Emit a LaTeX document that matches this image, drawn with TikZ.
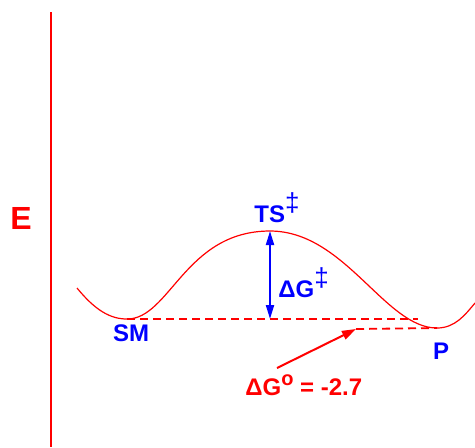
\documentclass[tikz,border=0pt]{standalone}
\usepackage{fontspec}
\setmainfont{Liberation Sans}
\usetikzlibrary{arrows.meta,positioning}

\newcommand{\dg}{\raisebox{0.45em}{\mdseries\fontsize{13}{14}\selectfont‡}}

\begin{document}
\begin{tikzpicture}[
    x=0.5pt, y=-0.5pt,
    lbl/.style={font=\bfseries\fontsize{12}{14}\selectfont, text=blue, inner sep=0pt},
    redlbl/.style={font=\bfseries\fontsize{12}{14}\selectfont, text=red, inner sep=0pt},
    level/.style={red, dash pattern=on 4pt off 2.5pt, line width=0.9pt},
    dblarrow/.style={{Triangle[length=7pt,width=4pt]}-{Triangle[length=7pt,width=4pt]}, line width=1pt},
    arrow/.style={-{Triangle[length=7pt,width=4.5pt]}, line width=1pt}
]
    \useasboundingbox (0,0) rectangle (475,447);
    % energy axis
    \coordinate (axtop) at (51,12);
    \coordinate (axbot) at (51,447);
    \draw[red, line width=1pt] (axtop) -- (axbot);
    \node[font=\bfseries\fontsize{16}{18}\selectfont, text=red] (E) at (21,218) {E};

    % reaction profile
    \coordinate (sm) at (127,319);
    \coordinate (ts) at (270,231);
    \coordinate (p) at (437,328);
    \draw[red, line width=0.6pt] (77,288) .. controls (95,310) and (110,319) .. (sm)
        .. controls (170,319) and (185,231) .. (ts)
        .. controls (345,231) and (385,328) .. (p)
        .. controls (455,328) and (465,315) .. (475,303);

    % levels
    \coordinate (smend) at (418,319);
    \coordinate (pstart) at (356,329);
    \draw[level] (sm) -- (smend);
    \draw[level] (pstart) -- (p);
    \coordinate (tsbase) at (270,319);

    % labels
    \node[lbl] (smlbl) at (131,333) {SM};
    \node[lbl] (plbl) at (441,351) {P};
    \node[lbl] (tslbl) at (277,208) {TS\dg};
    \node[lbl, anchor=west] (dglbl) at (278,283) {ΔG\dg};
    \node[redlbl, anchor=west] (dg0) at (245,385) {ΔG\raisebox{0.4em}{\fontsize{10}{12}\selectfont o} = -2.7};

    % arrows
    \draw[blue, dblarrow] (ts) -- (tsbase);
    \coordinate (dgtail) at (277,368);
    \draw[arrow, red] (dgtail) -- (pstart);
\end{tikzpicture}
\end{document}
